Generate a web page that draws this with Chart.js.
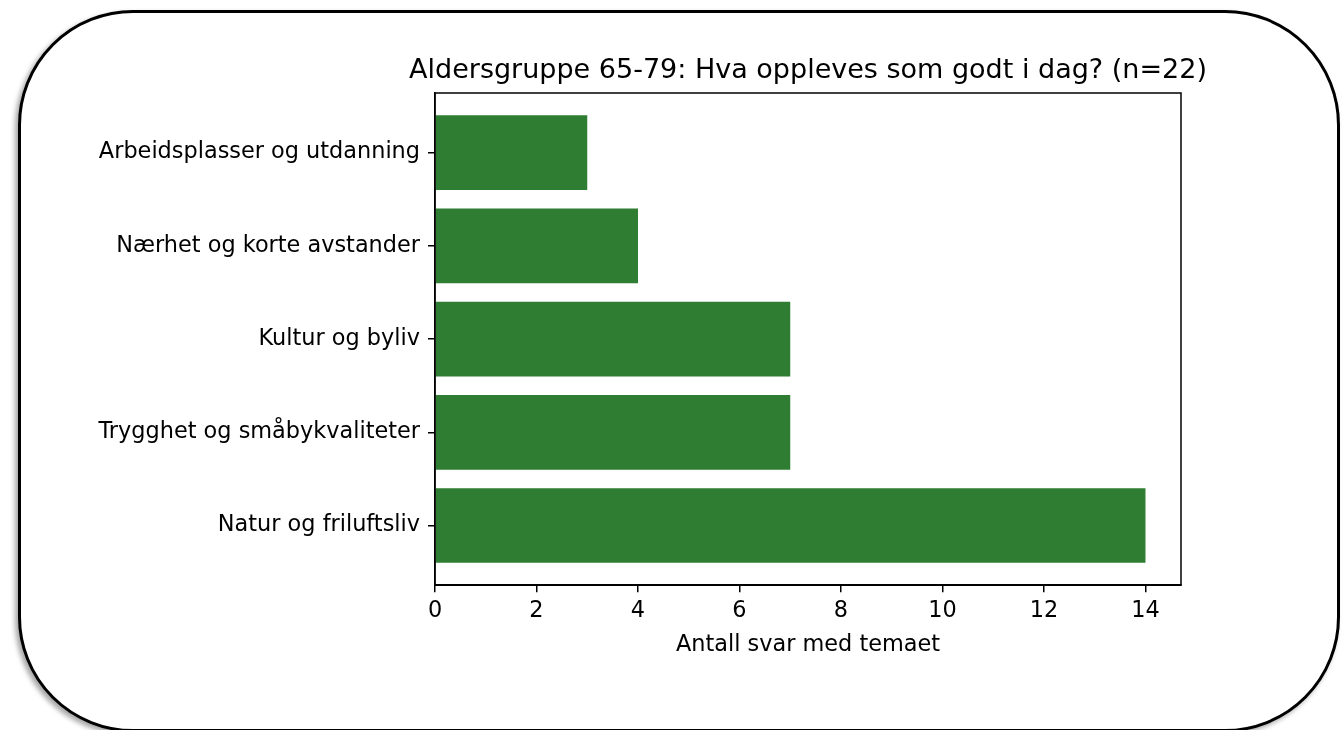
<!DOCTYPE html>
<html>
<head>
<meta charset="utf-8">
<script src="https://cdn.jsdelivr.net/npm/chart.js@4"></script>
<style>
  body { margin: 0; background: #fff; overflow: hidden; }
  #ramme {
    position: absolute; left: 18px; top: 10px; width: 1322px; height: 722px;
    box-sizing: border-box; border: 3px solid #000; border-radius: 115px;
    box-shadow: -3px 3px 5px rgba(0,0,0,0.35); background: #fff;
  }
  #graf { position: absolute; left: 0; top: 0; }
</style>
</head>
<body>
<div id="ramme"></div>
<canvas id="graf" width="1342" height="730"></canvas>
<script>
// DATA
const kategorier = [
  "Arbeidsplasser og utdanning",
  "Nærhet og korte avstander",
  "Kultur og byliv",
  "Trygghet og småbykvaliteter",
  "Natur og friluftsliv"
];
const antallSvar = [3, 4, 7, 7, 14];
const xTikker = [0, 2, 4, 6, 8, 10, 12, 14];
const tittel = "Aldersgruppe 65-79: Hva oppleves som godt i dag? (n=22)";
const aksetittel = "Antall svar med temaet";

const fontFamilie = "'DejaVu Sans', sans-serif";
Chart.defaults.color = "#000";
Chart.defaults.font.family = fontFamilie;

// ramme rundt plottet + tittel sentrert over plottet (matplotlib-stil)
const rammePlugin = {
  id: "rammePlugin",
  afterDraw(chart) {
    const a = chart.chartArea;
    const ctx = chart.ctx;
    ctx.save();
    ctx.strokeStyle = "#000";
    ctx.lineWidth = 1.5;
    ctx.strokeRect(a.left, a.top, a.right - a.left, a.bottom - a.top);
    ctx.fillStyle = "#000";
    ctx.font = "27px " + fontFamilie;
    ctx.textAlign = "center";
    ctx.textBaseline = "middle";
    ctx.fillText(tittel, (a.left + a.right) / 2, a.top - 22);
    ctx.restore();
  }
};

const data = {
  datasets: [{
    data: kategorier.map((k, i) => ({ x: antallSvar[i], y: i })),
    backgroundColor: "#2e7d32",
    borderWidth: 0,
    barPercentage: 1,
    categoryPercentage: 0.8
  }]
};

const config = {
  type: "bar",
  data: data,
  plugins: [rammePlugin],
  options: {
    indexAxis: "y",
    responsive: false,
    animation: false,
    layout: { padding: { left: 0, right: 161, top: 93, bottom: 71 } },
    plugins: {
      legend: { display: false },
      tooltip: { enabled: false },
      title: { display: false }
    },
    scales: {
      x: {
        type: "linear",
        min: 0,
        max: 14.7,
        grid: { drawOnChartArea: false, drawTicks: true, tickLength: 7, color: "#000", lineWidth: 1.5 },
        border: { display: true, color: "#000", width: 1.5 },
        ticks: { padding: 6, font: { size: 22.4 }, color: "#000" },
        afterBuildTicks: (skala) => {
          skala.ticks = xTikker.map(v => ({ value: v }));
        },
        title: {
          display: true,
          text: aksetittel,
          font: { size: 22.4 },
          color: "#000",
          padding: { top: 1, bottom: 0 }
        }
      },
      y: {
        type: "linear",
        reverse: true,
        offset: false,
        min: -0.64,
        max: 4.64,
        grid: { offset: false, drawOnChartArea: false, drawTicks: true, tickLength: 7, color: "#000", lineWidth: 1.5 },
        border: { display: true, color: "#000", width: 1.5 },
        ticks: {
          padding: 8,
          font: { size: 22.4 },
          color: "#000",
          callback: (v) => kategorier[v]
        },
        afterBuildTicks: (skala) => {
          skala.ticks = kategorier.map((k, i) => ({ value: i }));
        },
        afterFit: (skala) => { skala.width = 435; }
      }
    }
  }
};

const minGraf = new Chart(document.getElementById("graf"), config);
</script>
</body>
</html>
